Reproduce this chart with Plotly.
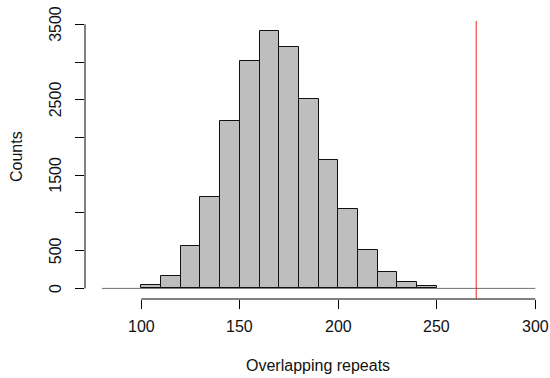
import plotly.graph_objects as go

# Histogram data (bin width 10)
bin_starts = [100, 110, 120, 130, 140, 150, 160, 170, 180, 190, 200, 210, 220, 230, 240]
counts = [48, 159, 561, 1215, 2219, 3019, 3412, 3200, 2510, 1697, 1048, 512, 216, 80, 27]
observed = 270
x_ticks = [100, 150, 200, 250, 300]
y_ticks = [0, 500, 1000, 1500, 2000, 2500, 3000, 3500]
y_labels = ["0", "500", "", "1500", "", "2500", "", "3500"]
bin_width = 10

centers = [b + bin_width / 2 for b in bin_starts]

FONT = "Liberation Sans, Arial, sans-serif"
fs = 16

xr = [71.42, 307.46]
yr = [-140.5, 3637]

fig = go.Figure()
fig.add_trace(go.Bar(
    x=centers, y=counts, width=[bin_width] * len(centers),
    marker=dict(color="#BEBEBE", line=dict(color="#111111", width=1)),
    hoverinfo="skip", showlegend=False,
))

shapes = [
    # gray baseline
    dict(type="line", xref="x", yref="y", x0=80, x1=300, y0=0, y1=0,
         line=dict(color="#707070", width=1), layer="below"),
    # x axis line
    dict(type="line", xref="x", yref="paper", x0=x_ticks[0], x1=x_ticks[-1], y0=0, y1=0,
         line=dict(color="black", width=1)),
    # y axis line
    dict(type="line", xref="paper", yref="y", x0=0, x1=0, y0=y_ticks[0], y1=y_ticks[-1],
         line=dict(color="black", width=1)),
    # red observed line
    dict(type="line", xref="x", yref="y", x0=observed, x1=observed, y0=yr[0], y1=3545,
         line=dict(color="#EE2222", width=1)),
]

annotations = []
for v in x_ticks:
    annotations.append(dict(x=v, y=0, xref="x", yref="paper", text=str(v), showarrow=False,
                            xanchor="center", yanchor="middle", yshift=-27,
                            font=dict(family=FONT, size=fs, color="#111")))
for v, t in zip(y_ticks, y_labels):
    if t:
        annotations.append(dict(x=0, y=v, xref="paper", yref="y", text=t, showarrow=False,
                                xanchor="center", yanchor="middle", xshift=-29.5, textangle=-90,
                                font=dict(family=FONT, size=fs, color="#111")))
annotations.append(dict(x=0.5, y=0, xref="paper", yref="paper", text="Overlapping repeats",
                        showarrow=False, xanchor="center", yanchor="middle", yshift=-66,
                        font=dict(family=FONT, size=fs, color="#111")))
annotations.append(dict(x=0, y=0.5, xref="paper", yref="paper", text="Counts",
                        showarrow=False, xanchor="center", yanchor="middle", xshift=-68.5,
                        textangle=-90, font=dict(family=FONT, size=fs, color="#111")))

fig.update_layout(
    width=550, height=378,
    margin=dict(l=85, r=0, t=14, b=79),
    paper_bgcolor="white", plot_bgcolor="white",
    shapes=shapes, annotations=annotations,
    bargap=0,
    xaxis=dict(range=xr, showgrid=False, zeroline=False, showline=False,
               tickvals=x_ticks, ticks="outside", ticklen=9, tickcolor="black", tickwidth=1,
               showticklabels=False),
    yaxis=dict(range=yr, showgrid=False, zeroline=False, showline=False,
               tickvals=y_ticks, ticks="outside", ticklen=9, tickcolor="black", tickwidth=1,
               showticklabels=False),
)

fig.write_html("out.html", config={"displayModeBar": False},
               post_script="document.body.style.margin='0px';")
